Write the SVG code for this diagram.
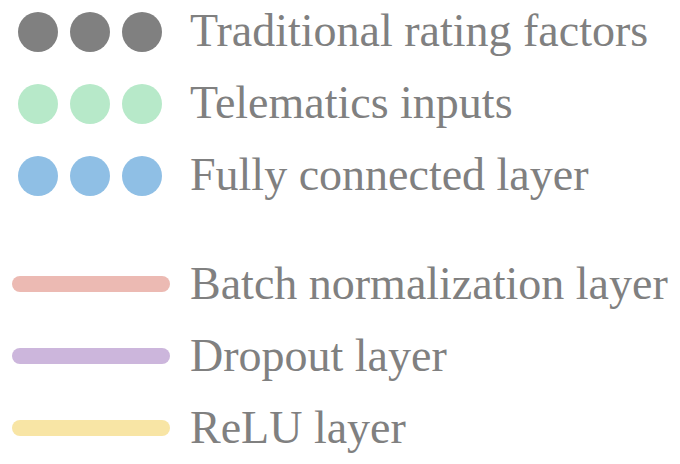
<svg xmlns="http://www.w3.org/2000/svg" width="680" height="464" viewBox="0 0 680 464">
<style>
text{font-family:"Liberation Serif","Times New Roman",serif;font-size:46px;fill:#808080}
line{stroke-width:16;stroke-linecap:round}
</style>
<rect width="680" height="464" fill="#ffffff"/>
<g id="legend-traditional">
<circle cx="38" cy="32" r="20" fill="#808080"/><circle cx="90" cy="32" r="20" fill="#808080"/><circle cx="142" cy="32" r="20" fill="#808080"/>
<text x="190" y="46">Traditional rating factors</text>
</g>
<g id="legend-telematics">
<circle cx="38" cy="104" r="20" fill="#b7e9c9"/><circle cx="90" cy="104" r="20" fill="#b7e9c9"/><circle cx="142" cy="104" r="20" fill="#b7e9c9"/>
<text x="190" y="118">Telematics inputs</text>
</g>
<g id="legend-fc">
<circle cx="38" cy="176" r="20" fill="#8fbfe5"/><circle cx="90" cy="176" r="20" fill="#8fbfe5"/><circle cx="142" cy="176" r="20" fill="#8fbfe5"/>
<text x="190" y="190">Fully connected layer</text>
</g>
<g id="legend-lines">
<g id="legend-bn"><line x1="20" y1="284" x2="162" y2="284" stroke="#ecbab3"/><text x="190" y="299">Batch normalization layer</text></g>
<g id="legend-dropout"><line x1="20" y1="356" x2="162" y2="356" stroke="#ccb6dc"/><text x="190" y="371">Dropout layer</text></g>
<g id="legend-relu"><line x1="20" y1="428" x2="162" y2="428" stroke="#f8e5a5"/><text x="190" y="443">ReLU layer</text></g>
</g>
</svg>
